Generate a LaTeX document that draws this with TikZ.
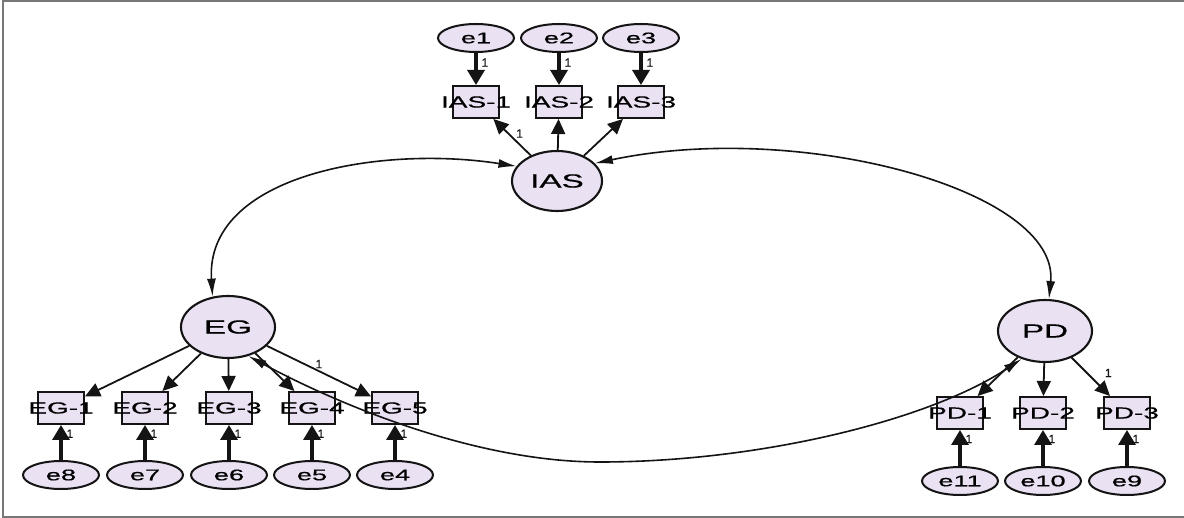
\documentclass[tikz,border=0pt]{standalone}
\usepackage{fontspec}
\setmainfont{Liberation Sans}
\newfontfamily\amosfont[FakeBold=0.5]{Liberation Sans}
\usetikzlibrary{shapes.geometric,arrows.meta}
\definecolor{lav}{RGB}{234,225,243}
\definecolor{framegray}{RGB}{120,120,120}
\definecolor{ink}{RGB}{20,20,20}
% wide, zero-width label text so it may run past its box
\newcommand{\wtext}[1]{\makebox[0pt]{\scalebox{1.75}[1]{#1}}}

\begin{document}
\begin{tikzpicture}[x=1pt,y=-1pt,
  latent/.style={ellipse,draw=ink,line width=2.1pt,fill=lav,minimum width=94pt,minimum height=62pt,inner sep=0pt,font=\amosfont\fontsize{19}{19}\selectfont},
  errvar/.style={ellipse,draw=ink,line width=2pt,fill=lav,minimum width=76pt,minimum height=28pt,inner sep=0pt,font=\amosfont\fontsize{15.5}{15.5}\selectfont},
  indicator/.style={rectangle,draw=ink,line width=2pt,fill=lav,minimum width=46pt,minimum height=32pt,inner sep=0pt,font=\amosfont\fontsize{16}{16}\selectfont},
  errpath/.style={draw=ink,line width=3.2pt,-{Triangle[length=15pt,width=17pt]}},
  loading/.style={draw=ink,line width=1.8pt,-{Triangle[length=15pt,width=14pt]}},
  covpath/.style={draw=ink,line width=1.6pt,{Latex[length=18pt,width=9pt]}-{Latex[length=18pt,width=9pt]}},
  wt/.style={font=\amosfont\fontsize{12}{12}\selectfont,inner sep=1pt,text=ink}
]
\useasboundingbox (0,0) rectangle (1184,518);
\fill[white] (0,0) rectangle (1184,518);

% frame
\coordinate (fa) at (1190,1.5);
\coordinate (fb) at (3,1.5);
\coordinate (fc) at (3,516.5);
\coordinate (fd) at (1190,516.5);
\draw[framegray,line width=2pt] (fa) -- (fb) -- (fc) -- (fd);

% latent variables
\node[latent,minimum width=90pt,minimum height=60pt] (IAS) at (557,181) {\wtext{IAS}};
\node[latent] (EG) at (228,327) {\wtext{EG}};
\node[latent] (PD) at (1045,331) {\wtext{PD}};

% IAS indicators
\node[indicator] (IAS-1) at (476,102) {\wtext{IAS-1}};
\node[indicator] (IAS-2) at (559,102) {\wtext{IAS-2}};
\node[indicator] (IAS-3) at (641,102) {\wtext{IAS-3}};
\node[errvar] (e1) at (476,38) {\wtext{e1}};
\node[errvar] (e2) at (559,38) {\wtext{e2}};
\node[errvar] (e3) at (641,38) {\wtext{e3}};

% EG indicators
\node[indicator] (EG-1) at (61,408) {\wtext{EG-1}};
\node[indicator] (EG-2) at (145,408) {\wtext{EG-2}};
\node[indicator] (EG-3) at (229,408) {\wtext{EG-3}};
\node[indicator] (EG-4) at (312,408) {\wtext{EG-4}};
\node[indicator] (EG-5) at (395,408) {\wtext{EG-5}};
\node[errvar] (e8) at (61,475) {\wtext{e8}};
\node[errvar] (e7) at (145,475) {\wtext{e7}};
\node[errvar] (e6) at (229,475) {\wtext{e6}};
\node[errvar] (e5) at (312,475) {\wtext{e5}};
\node[errvar] (e4) at (395,475) {\wtext{e4}};

% PD indicators
\node[indicator] (PD-1) at (960,413) {\wtext{PD-1}};
\node[indicator] (PD-2) at (1043,413) {\wtext{PD-2}};
\node[indicator] (PD-3) at (1127,413) {\wtext{PD-3}};
\node[errvar] (e11) at (960,481) {\wtext{e11}};
\node[errvar] (e10) at (1043,481) {\wtext{e10}};
\node[errvar] (e9) at (1127,481) {\wtext{e9}};

% error paths
\draw[errpath] (e1) -- (IAS-1) node[wt,pos=0.3,right=3pt] {1};
\draw[errpath] (e2) -- (IAS-2) node[wt,pos=0.3,right=3pt] {1};
\draw[errpath] (e3) -- (IAS-3) node[wt,pos=0.3,right=3pt] {1};
\draw[errpath] (e8) -- (EG-1) node[wt,pos=0.75,right=3pt] {1};
\draw[errpath] (e7) -- (EG-2) node[wt,pos=0.75,right=3pt] {1};
\draw[errpath] (e6) -- (EG-3) node[wt,pos=0.75,right=3pt] {1};
\draw[errpath] (e5) -- (EG-4) node[wt,pos=0.75,right=3pt] {1};
\draw[errpath] (e4) -- (EG-5) node[wt,pos=0.75,right=3pt] {1};
\draw[errpath] (e11) -- (PD-1) node[wt,pos=0.75,right=3pt] {1};
\draw[errpath] (e10) -- (PD-2) node[wt,pos=0.75,right=3pt] {1};
\draw[errpath] (e9) -- (PD-3) node[wt,pos=0.75,right=3pt] {1};

% factor loadings
\draw[loading] (IAS) -- (IAS-1) node[wt,pos=0.6,right=6pt] {1};
\draw[loading] (IAS) -- (IAS-2);
\draw[loading] (IAS) -- (IAS-3);
\draw[loading] (EG) -- (EG-1);
\draw[loading] (EG) -- (EG-2);
\draw[loading] (EG) -- (EG-3);
\draw[loading] (EG) -- (EG-4);
\draw[loading] (EG) -- (EG-5) node[wt,pos=0.5,above=1pt] {1};
\draw[loading] (PD) -- (PD-1);
\draw[loading] (PD) -- (PD-2);
\draw[loading] (PD) -- (PD-3) node[wt,pos=0.4,right=16pt] {1};

% covariances
\draw[covpath] (IAS.160) .. controls (380,145) and (205,175) .. (EG.117);
\draw[covpath] (IAS.25) .. controls (800,120) and (1060,190) .. (PD.83);
\draw[covpath] (EG.-55) .. controls (330,400) and (470,462) .. (600,462)
  .. controls (760,462) and (930,420) .. (PD.-130);
\end{tikzpicture}
\end{document}
